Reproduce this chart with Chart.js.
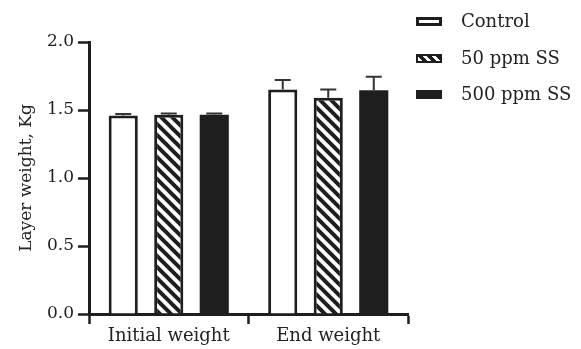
<!DOCTYPE html>
<html>
<head>
<meta charset="utf-8">
<script src="https://cdn.jsdelivr.net/npm/chart.js@4"></script>
<style>
  html, body { margin: 0; padding: 0; background: #fff; }
  #wrap { position: relative; width: 581px; height: 349px; }
  #c { position: absolute; left: 0; top: 0; }
  .lg { position: absolute; left: 416px; font-family: "DejaVu Serif", serif; font-size: 18px; color: #222; line-height: 22px; height: 22px; white-space: nowrap; }
  .lg .bx { position: absolute; left: 0; top: 7px; width: 26px; height: 9px; box-sizing: border-box; }
  .lg .tx { position: absolute; left: 45px; top: 0; }
</style>
</head>
<body>
<div id="wrap">
  <canvas id="c" width="581" height="349"></canvas>
</div>
<script>
// ---- data ----
const categories = ["Initial weight", "End weight"];
const seriesNames = ["Control", "50 ppm SS", "500 ppm SS"];
const controlMean = [1.46, 1.65];
const controlErr  = [0.01, 0.07];
const ss50Mean    = [1.465, 1.59];
const ss50Err     = [0.01, 0.06];
const ss500Mean   = [1.465, 1.645];
const ss500Err    = [0.01, 0.10];
const yTicks = [0.0, 0.5, 1.0, 1.5, 2.0];
const yAxisTitle = "Layer weight, Kg";

// ---- hatch pattern ----
function makeHatch() {
  const s = 11;
  const cv = document.createElement('canvas');
  cv.width = s; cv.height = s;
  const x = cv.getContext('2d');
  x.fillStyle = '#fff';
  x.fillRect(0, 0, s, s);
  x.strokeStyle = '#1e1e1e';
  x.lineWidth = 4;
  x.beginPath();
  for (let k = -1; k <= 1; k++) {
    x.moveTo(k * s - 2, -2);
    x.lineTo(k * s + s + 2, s + 2);
  }
  x.stroke();
  return x.createPattern(cv, 'repeat');
}
const ctx = document.getElementById('c').getContext('2d');
const hatch = makeHatch();
const INK = '#1e1e1e';

const errorSets = [controlErr, ss50Err, ss500Err];

const errorBars = {
  id: 'errorBars',
  afterDatasetsDraw(chart) {
    const c = chart.ctx;
    const y = chart.scales.y;
    c.save();
    c.strokeStyle = '#333';
    c.lineWidth = 2;
    chart.data.datasets.forEach((ds, di) => {
      const meta = chart.getDatasetMeta(di);
      meta.data.forEach((bar, i) => {
        const v = ds.data[i];
        const e = errorSets[di][i];
        const yb = y.getPixelForValue(v);
        const yt = y.getPixelForValue(v + e);
        c.beginPath();
        c.moveTo(bar.x, yb);
        c.lineTo(bar.x, yt);
        c.moveTo(bar.x - 8, yt);
        c.lineTo(bar.x + 8, yt);
        c.stroke();
      });
    });
    c.restore();
  }
};

new Chart(ctx, {
  type: 'bar',
  data: {
    labels: categories,
    datasets: [
      { label: seriesNames[0], data: controlMean, backgroundColor: '#fff', borderColor: INK, borderWidth: 3, borderSkipped: 'bottom' },
      { label: seriesNames[1], data: ss50Mean, backgroundColor: hatch, borderColor: INK, borderWidth: 3, borderSkipped: 'bottom' },
      { label: seriesNames[2], data: ss500Mean, backgroundColor: INK, borderColor: INK, borderWidth: 0 }
    ]
  },
  options: {
    responsive: false,
    devicePixelRatio: 1,
    animation: false,
    categoryPercentage: 0.856,
    barPercentage: 0.64,
    layout: { padding: { left: 8, right: 173, top: 42, bottom: 0 } },
    plugins: { legend: { display: false }, tooltip: { enabled: false } },
    scales: {
      x: {
        grid: { drawOnChartArea: false, drawTicks: true, tickLength: 10, tickWidth: 2.5, tickColor: INK },
        border: { display: true, color: INK, width: 3 },
        ticks: { color: '#222', padding: 2, font: { family: 'DejaVu Serif', size: 18 } },
        afterFit(s) { s.height = 35; }
      },
      y: {
        min: 0, max: 2,
        afterBuildTicks(s) { s.ticks = yTicks.map(v => ({ value: v })); },
        grid: { drawOnChartArea: false, drawTicks: true, tickLength: 11, tickWidth: 2.5, tickColor: INK },
        border: { display: true, color: INK, width: 3 },
        ticks: { color: '#222', padding: 4, font: { family: 'DejaVu Serif', size: 17 }, callback: v => Number(v).toFixed(1) },
        title: { display: true, text: yAxisTitle, color: '#222', font: { family: 'DejaVu Serif', size: 17 }, padding: { top: 8, bottom: 0 } },
        afterFit(s) { s.width = 81; }
      }
    }
  },
  plugins: [errorBars]
});

// ---- legend (HTML text) ----
const wrap = document.getElementById('wrap');
const boxStyles = [
  'background:#fff;border:3px solid ' + INK + ';',
  'background:repeating-linear-gradient(45deg,#fff 0 3px,' + INK + ' 3px 6.5px);border:2px solid ' + INK + ';',
  'background:' + INK + ';'
];
const legendTops = [10, 47, 83];
seriesNames.forEach((n, i) => {
  const d = document.createElement('div');
  d.className = 'lg';
  d.style.top = legendTops[i] + 'px';
  const b = document.createElement('div');
  b.className = 'bx';
  b.setAttribute('style', boxStyles[i]);
  const t = document.createElement('span');
  t.className = 'tx';
  t.textContent = n;
  d.appendChild(b); d.appendChild(t);
  wrap.appendChild(d);
});
</script>
</body>
</html>
